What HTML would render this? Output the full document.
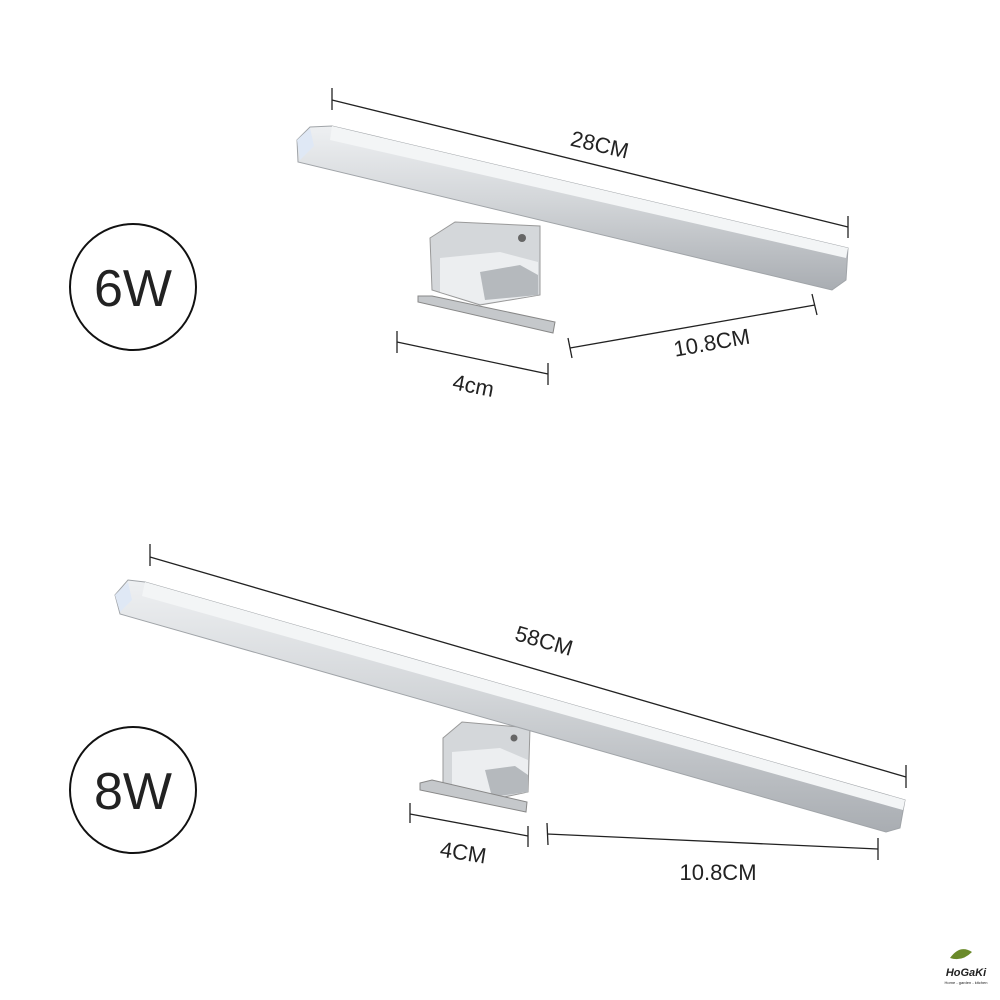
<!DOCTYPE html>
<html><head><meta charset="utf-8"><style>
html,body{margin:0;padding:0;background:#fff;}
svg{display:block}
text{font-family:"Liberation Sans","DejaVu Sans",sans-serif;fill:#222}
</style></head><body>
<svg width="1000" height="1000" viewBox="0 0 1000 1000" xmlns="http://www.w3.org/2000/svg">
<defs>
<linearGradient id="g1" x1="0" y1="0" x2="0" y2="1">
<stop offset="0" stop-color="#eef0f2"/><stop offset="0.45" stop-color="#d3d6d9"/><stop offset="1" stop-color="#a9adb2"/>
</linearGradient>
<linearGradient id="chrome" x1="0" y1="0" x2="1" y2="1">
<stop offset="0" stop-color="#c8cbce"/><stop offset="0.5" stop-color="#f2f3f4"/><stop offset="1" stop-color="#9da1a5"/>
</linearGradient>
</defs>

<circle cx="133" cy="287" r="63" fill="none" stroke="#111" stroke-width="2"/>
<text x="133" y="306" font-size="52" text-anchor="middle" fill="#111">6W</text>
<circle cx="133" cy="790" r="63" fill="none" stroke="#111" stroke-width="2"/>
<text x="133" y="809" font-size="52" text-anchor="middle" fill="#111">8W</text>

<!-- TOP LAMP bracket -->
<polygon points="430,238 455,222 540,226 540,295 480,305 432,290" fill="#d4d7da" stroke="#999" stroke-width="1"/>
<polygon points="440,258 500,252 538,262 538,295 480,304 440,292" fill="#eceef0"/>
<polygon points="480,272 520,265 538,275 538,295 485,300" fill="#b5b9bd"/>
<circle cx="522" cy="238" r="4" fill="#666"/>
<polygon points="418,296 432,296 555,322 553,333 418,302" fill="#c5c8cb" stroke="#888" stroke-width="1"/>
<!-- bar -->
<polygon points="297,140 310,127 332,126 848,248 846,280 832,290 298,162" fill="url(#g1)" stroke="#a0a4a8" stroke-width="1"/>
<polygon points="332,126 848,248 846,258 330,140" fill="#f3f5f6"/>
<polygon points="297,140 310,128 314,146 300,160" fill="#dfe8f5"/>

<g stroke="#222" stroke-width="1.3" fill="none">
<line x1="332" y1="100" x2="848" y2="227"/>
<line x1="332" y1="88" x2="332" y2="110"/>
<line x1="848" y1="216" x2="848" y2="238"/>
<line x1="397" y1="342" x2="548" y2="374"/>
<line x1="397" y1="331" x2="397" y2="353"/>
<line x1="548" y1="363" x2="548" y2="385"/>
<line x1="570" y1="348" x2="815" y2="305"/>
<line x1="568" y1="338" x2="572" y2="358"/>
<line x1="812" y1="294" x2="817" y2="315"/>
</g>
<text x="0" y="0" font-size="22" text-anchor="middle" transform="translate(598,152) rotate(13)">28CM</text>
<text x="0" y="0" font-size="22" text-anchor="middle" transform="translate(472,393) rotate(11)">4cm</text>
<text x="0" y="0" font-size="22" text-anchor="middle" transform="translate(713,350) rotate(-10)">10.8CM</text>

<!-- BOTTOM LAMP -->
<polygon points="443,738 462,722 530,728 528,792 490,800 443,785" fill="#d4d7da" stroke="#999" stroke-width="1"/>
<polygon points="452,752 500,748 528,760 528,792 490,798 452,785" fill="#eceef0"/>
<polygon points="485,770 515,766 528,775 528,792 492,797" fill="#b5b9bd"/>
<circle cx="514" cy="738" r="3.5" fill="#666"/>
<polygon points="420,783 432,780 527,802 526,812 420,790" fill="#c5c8cb" stroke="#888" stroke-width="1"/>
<polygon points="115,595 128,580 145,582 905,800 900,828 886,832 120,614" fill="url(#g1)" stroke="#a0a4a8" stroke-width="1"/>
<polygon points="145,582 905,800 903,810 142,596" fill="#f3f5f6"/>
<polygon points="115,595 128,582 132,600 120,612" fill="#dfe8f5"/>

<g stroke="#222" stroke-width="1.3" fill="none">
<line x1="150" y1="557" x2="906" y2="777"/>
<line x1="150" y1="544" x2="150" y2="566"/>
<line x1="906" y1="765" x2="906" y2="788"/>
<line x1="410" y1="814" x2="528" y2="836"/>
<line x1="410" y1="803" x2="410" y2="823"/>
<line x1="528" y1="826" x2="528" y2="847"/>
<line x1="547" y1="834" x2="878" y2="849"/>
<line x1="547" y1="823" x2="548" y2="845"/>
<line x1="878" y1="838" x2="878" y2="860"/>
</g>
<text x="0" y="0" font-size="22" text-anchor="middle" transform="translate(542,648) rotate(16)">58CM</text>
<text x="0" y="0" font-size="22" text-anchor="middle" transform="translate(462,860) rotate(9)">4CM</text>
<text x="0" y="0" font-size="22" text-anchor="middle" transform="translate(718,880) rotate(0)">10.8CM</text>

<path d="M950,958 Q960,944 972,952 Q962,962 950,958Z" fill="#6a8a2a"/>
<text x="966" y="976" font-size="11" font-weight="bold" font-style="italic" text-anchor="middle" fill="#3b2a14">HoGaKi</text>
<text x="966" y="984" font-size="4" text-anchor="middle" fill="#555">Home - garden - kitchen</text>
</svg>
</body></html>
